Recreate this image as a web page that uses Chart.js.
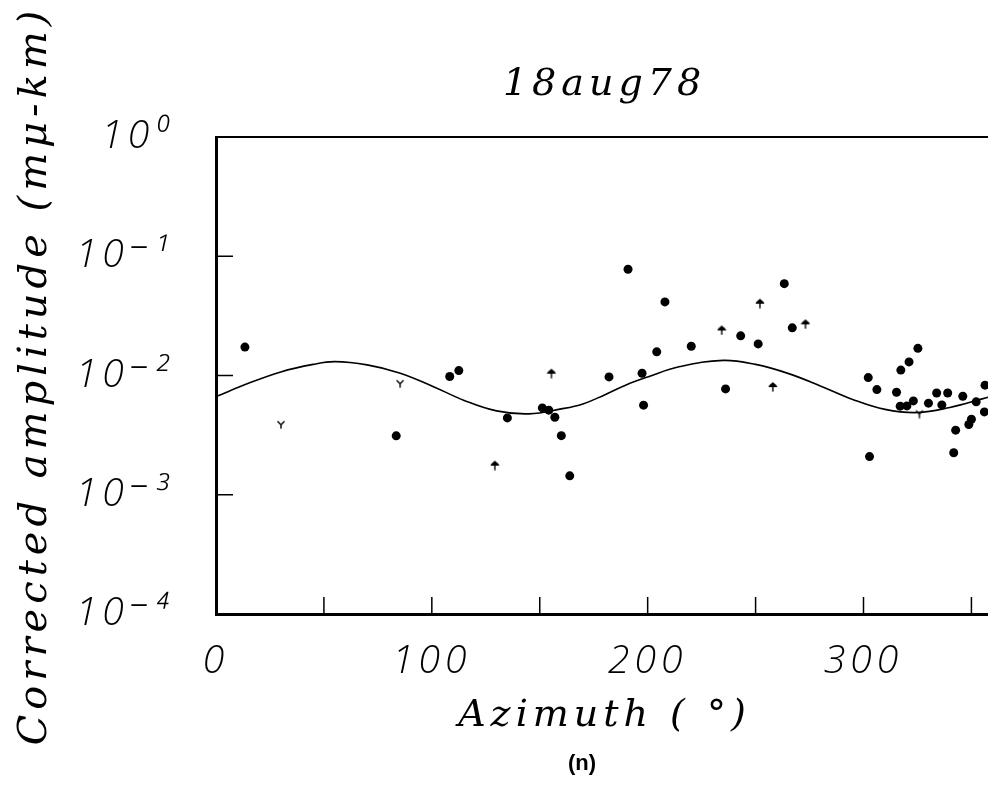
<!DOCTYPE html>
<html>
<head>
<meta charset="utf-8">
<script src="https://cdn.jsdelivr.net/npm/chart.js@4"></script>
<style>
html, body { margin: 0; padding: 0; background: #fff; overflow: hidden; }
#wrap { position: relative; width: 988px; height: 792px; overflow: hidden; }
#amp-chart { display: block; }
#panel { position: absolute; left: 532px; top: 750px; width: 100px; text-align: center;
         font: bold 22px 'Liberation Sans', sans-serif; color: #000; }
</style>
</head>
<body>
<div id="wrap">
  <canvas id="amp-chart" width="1009" height="792"></canvas>
  <div id="panel">(n)</div>
</div>
<script>
// observed stations: filled dots
const dotAz  = [13.4, 83.5, 108.3, 112.5, 135.0, 151.2, 154.2, 157.0, 160.0, 163.9,
                182.1, 190.9, 197.4, 198.1, 204.2, 208.0, 220.2, 236.1, 243.1, 251.2,
                263.3, 267.0, 302.2, 302.8, 306.2, 315.3, 317.0, 317.3, 320.1, 321.1,
                323.1, 325.2, 330.1, 333.9, 336.3, 339.0, 341.8, 342.7, 346.0, 348.8,
                350.0, 352.2, 356.0, 356.3];
const dotAmp = [0.0173, 0.00312, 0.0098, 0.0110, 0.00441, 0.00535, 0.00512, 0.00447, 0.00313, 0.00144,
                0.00973, 0.0778, 0.01045, 0.00564, 0.0158, 0.0414, 0.0176, 0.00772, 0.0215, 0.0184,
                0.0589, 0.0251, 0.0096, 0.00209, 0.00762, 0.00724, 0.00553, 0.0111, 0.00556, 0.0130,
                0.00612, 0.0169, 0.00586, 0.00714, 0.00567, 0.00714, 0.00225, 0.00348, 0.0067, 0.00388,
                0.0043, 0.00601, 0.00495, 0.0083];

// "Y" symbols
const yMarkAz  = [30.1, 85.3, 325.9];
const yMarkAmp = [0.0039, 0.0086, 0.0048];

// arrow symbols
const arrowAz  = [129.2, 155.4, 234.3, 252.0, 258.0, 273.1];
const arrowAmp = [0.00177, 0.01045, 0.0241, 0.0404, 0.00807, 0.0271];

// fitted radiation pattern
const curveAz  = [0, 15, 30, 45, 55, 70, 85, 100, 115, 130, 145, 160, 170, 180, 190,
                  200, 215, 235, 250, 265, 280, 295, 310, 325, 340, 355, 360];
const curveAmp = [0.00665, 0.00859, 0.01072, 0.01239, 0.01306, 0.01227, 0.01051, 0.00818, 0.00618, 0.00505,
                  0.00477, 0.00525, 0.00578, 0.00687, 0.00834, 0.00973, 0.01188, 0.01339, 0.01239, 0.01042,
                  0.00818, 0.0063, 0.0052, 0.00489, 0.0054, 0.00637, 0.00675];

const xTickLabels = [0, 100, 200, 300];
const xMinorTicks = [50, 100, 150, 200, 250, 300, 350];
const yTickValues = [1e-4, 1e-3, 1e-2, 1e-1, 1];
const yTickLabels = ['10⁻⁴', '10⁻³', '10⁻²', '10⁻¹', '10⁰'];

const pairs = (xs, ys) => xs.map((x, i) => ({ x: x, y: ys[i] }));

function yGlyph() {
    const c = document.createElement('canvas');
    c.width = 10; c.height = 10;
    const g = c.getContext('2d');
    g.strokeStyle = '#000';
    g.lineWidth = 1.4;
    g.beginPath();
    g.moveTo(1.5, 2); g.lineTo(5, 5.5); g.lineTo(8.5, 2);
    g.moveTo(5, 5.5); g.lineTo(5, 9.5);
    g.stroke();
    return c;
}

function arrowGlyph() {
    const c = document.createElement('canvas');
    c.width = 10; c.height = 11;
    const g = c.getContext('2d');
    g.fillStyle = '#000';
    g.strokeStyle = '#000';
    g.beginPath();
    g.moveTo(5, 1);
    g.quadraticCurveTo(8.5, 3.5, 9.5, 6);
    g.lineTo(0.5, 6);
    g.quadraticCurveTo(1.5, 3.5, 5, 1);
    g.fill();
    g.lineWidth = 1.4;
    g.beginPath();
    g.moveTo(5, 5); g.lineTo(5, 10.5);
    g.stroke();
    return c;
}

const numFont = { family: "'Open Sans', 'DejaVu Sans', sans-serif", style: 'italic', weight: 300, size: 39 };
const textFont = { family: "'DejaVu Serif', serif", style: 'italic', weight: 'normal', size: 38, lineHeight: 1.2 };
const yTitleFont = { family: "'DejaVu Serif', serif", style: 'italic', weight: 'normal', size: 40, lineHeight: 1.2 };

const spacing = {
    id: 'spacing',
    beforeLayout(chart) { chart.ctx.letterSpacing = '5px'; },
    beforeDraw(chart) { chart.ctx.letterSpacing = '5px'; }
};

// inward ticks and top border
const frame = {
    id: 'frame',
    afterDraw(chart) {
        const { ctx, chartArea: a, scales: { x, y } } = chart;
        ctx.save();
        ctx.strokeStyle = '#000';
        ctx.lineWidth = 2;
        ctx.beginPath();
        ctx.moveTo(a.left, a.top); ctx.lineTo(a.right, a.top);
        ctx.lineTo(a.right, a.bottom);
        ctx.stroke();
        ctx.lineWidth = 1.5;
        ctx.beginPath();
        yTickValues.forEach(v => {
            if (v > y.min && v < y.max) {
                const py = y.getPixelForValue(v);
                ctx.moveTo(a.left, py); ctx.lineTo(a.left + 17, py);
            }
        });
        xMinorTicks.forEach(v => {
            const px = x.getPixelForValue(v);
            ctx.moveTo(px, a.bottom); ctx.lineTo(px, a.bottom - 17);
        });
        ctx.stroke();
        ctx.restore();
    }
};

new Chart('amp-chart', {
    type: 'scatter',
    data: {
        datasets: [
            {
                label: 'fit',
                data: pairs(curveAz, curveAmp),
                showLine: true,
                borderColor: '#000',
                borderWidth: 1.6,
                pointRadius: 0,
                tension: 0.4
            },
            {
                label: 'dots',
                data: pairs(dotAz, dotAmp),
                pointStyle: 'circle',
                pointRadius: 4.5,
                backgroundColor: '#000',
                borderColor: '#000',
                borderWidth: 0
            },
            {
                label: 'Y',
                data: pairs(yMarkAz, yMarkAmp),
                pointStyle: yGlyph()
            },
            {
                label: 'arrow',
                data: pairs(arrowAz, arrowAmp),
                pointStyle: arrowGlyph()
            }
        ]
    },
    options: {
        responsive: false,
        animation: false,
        layout: { autoPadding: false, padding: { left: 0, right: 6, top: 0, bottom: 53 } },
        plugins: {
            legend: { display: false },
            tooltip: { enabled: false },
            title: {
                display: true,
                text: '18aug78',
                fullSize: false,
                color: '#000',
                font: textFont,
                padding: { top: 62, bottom: 29.4 }
            }
        },
        scales: {
            x: {
                type: 'linear',
                min: 0,
                max: 360,
                grid: { display: false },
                border: { display: true, color: '#000', width: 3 },
                ticks: {
                    stepSize: 50,
                    autoSkip: false,
                    maxRotation: 0,
                    padding: 16,
                    color: '#000',
                    font: numFont,
                    callback: v => xTickLabels.includes(v) ? String(v) : ''
                },
                title: {
                    display: true,
                    text: 'Azimuth ( °)',
                    color: '#000',
                    font: textFont,
                    padding: { top: 0, bottom: 0 }
                },
                afterFit: s => { s.height = 125; }
            },
            y: {
                type: 'logarithmic',
                min: 1e-4,
                max: 1,
                grid: { display: false },
                border: { display: true, color: '#000', width: 3 },
                afterBuildTicks: s => { s.ticks = yTickValues.map(v => ({ value: v, major: true })); },
                ticks: {
                    autoSkip: false,
                    padding: 36,
                    color: '#000',
                    font: numFont,
                    callback: (v, i) => yTickLabels[i]
                },
                title: {
                    display: true,
                    text: 'Corrected amplitude (mμ-km)',
                    color: '#000',
                    font: yTitleFont,
                    padding: { top: 12, bottom: 0 }
                },
                afterFit: s => { s.width = 216; }
            }
        }
    },
    plugins: [spacing, frame]
});
</script>
</body>
</html>
